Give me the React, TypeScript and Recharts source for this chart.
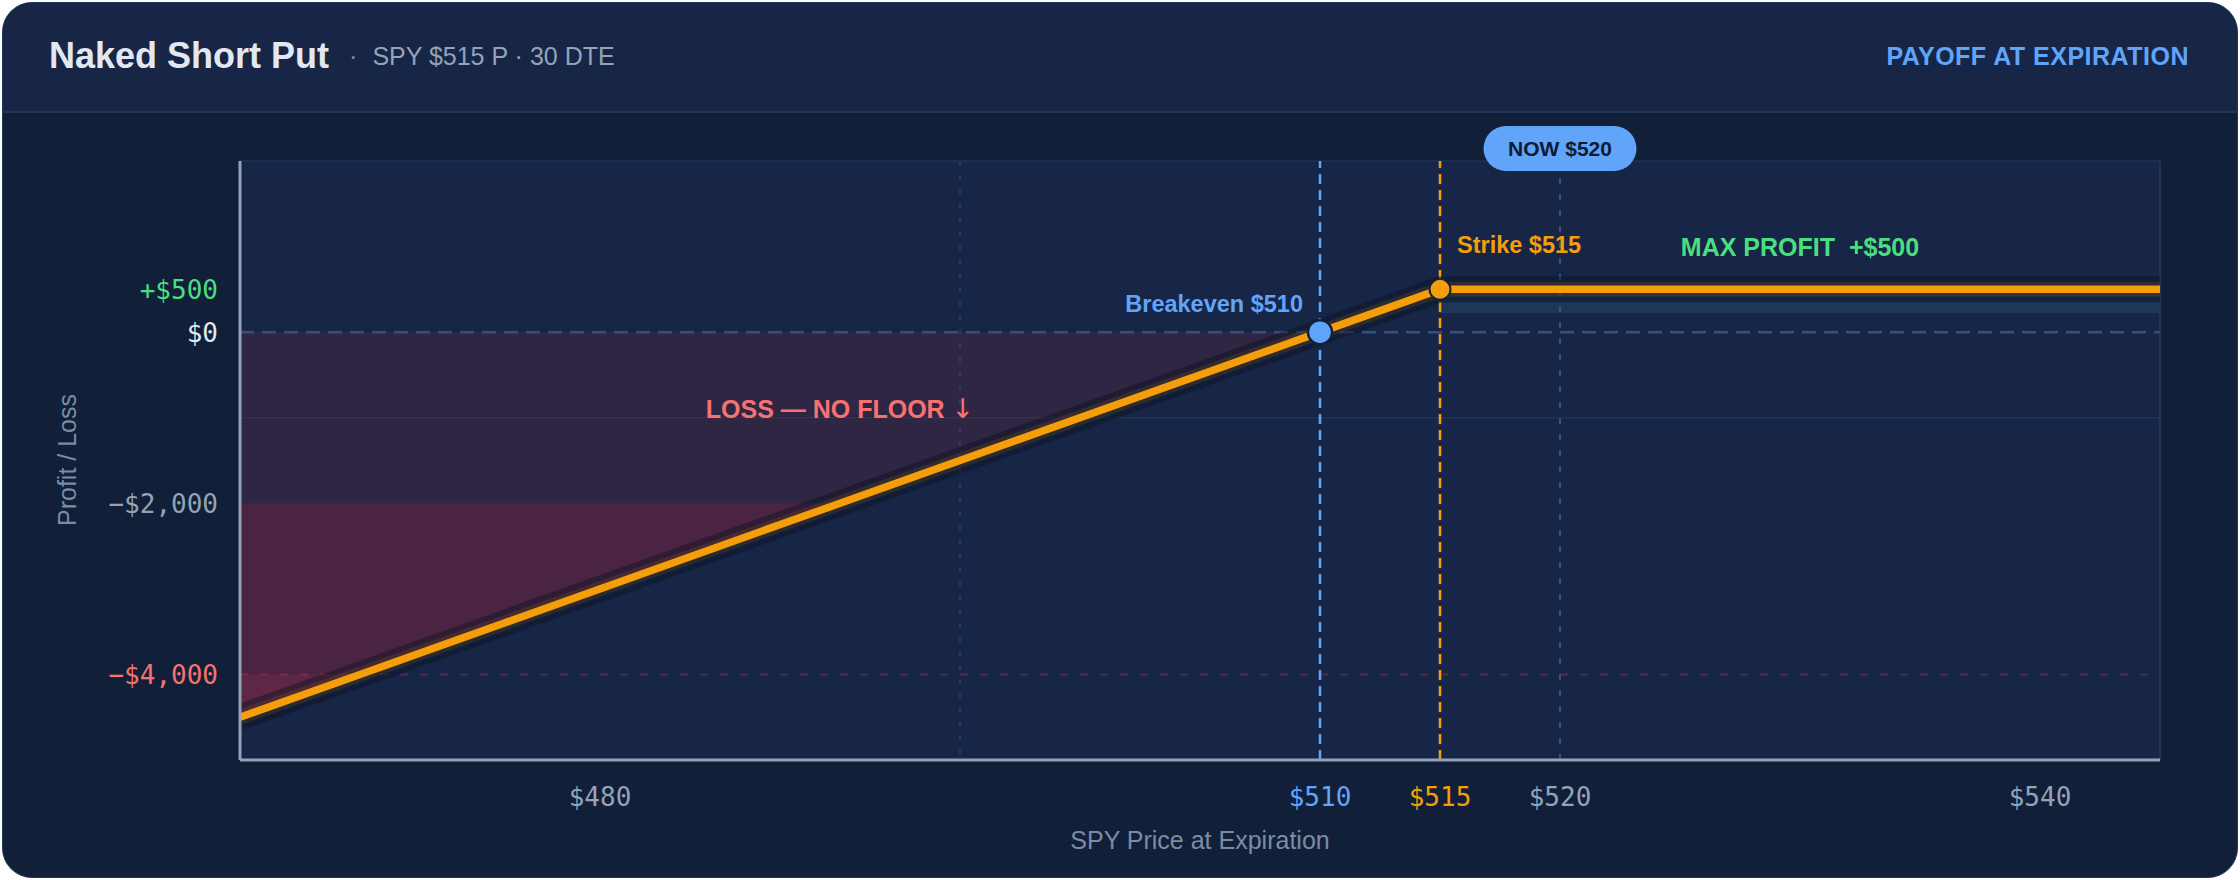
import {
  ComposedChart,
  Area,
  Line,
  XAxis,
  YAxis,
  CartesianGrid,
  ReferenceLine,
  ReferenceDot,
  ReferenceArea,
} from 'recharts';

// payoff of a short 515 put, premium $5 (x100)
const prices = [465, 470, 490, 510, 515, 545];
const pnl = [-4500, -4000, -2000, 0, 500, 500];

const xTicks = [480, 510, 515, 520, 540];
const xTickLabels = ['$480', '$510', '$515', '$520', '$540'];
const xTickColors = ['#94a3b8', '#60a5fa', '#f59e0b', '#94a3b8', '#94a3b8'];

const yTicks = [500, 0, -2000, -4000];
const yTickLabels = ['+$500', '$0', '\u2212$2,000', '\u2212$4,000'];
const yTickColors = ['#4ade80', '#e2e8f0', '#94a3b8', '#f87171'];

const breakeven = 510;
const strike = 515;
const spot = 520;
const maxProfit = 500;
const lossSteps = [0, -2000, -4000];

const SANS = '"Liberation Sans", Arial, Helvetica, sans-serif';
const MONO = '"DejaVu Sans Mono", monospace';

const data = prices.map((p, i) => ({
  price: p,
  pnl: pnl[i],
  loss0: Math.min(pnl[i], lossSteps[0]),
  loss1: Math.min(pnl[i], lossSteps[1]),
  loss2: Math.min(pnl[i], lossSteps[2]),
}));

function XTick(props: any) {
  const { x, y, payload } = props;
  const i = xTicks.indexOf(payload.value);
  return (
    <text x={x} y={y + 46} textAnchor="middle" fill={xTickColors[i]} fontSize={26} fontFamily={MONO}>
      {xTickLabels[i]}
    </text>
  );
}

function YTick(props: any) {
  const { x, y, payload } = props;
  const i = yTicks.indexOf(payload.value);
  return (
    <text x={x} y={y} dy="0.36em" textAnchor="end" fill={yTickColors[i]} fontSize={26} fontFamily={MONO}>
      {yTickLabels[i]}
    </text>
  );
}

function YTitle() {
  return (
    <text x={67} y={460} transform="rotate(-90 67 460)" dy="0.36em" textAnchor="middle" fill="#7d8ba5" fontSize={25} fontFamily={SANS}>
      Profit / Loss
    </text>
  );
}

function XTitle() {
  return (
    <text x={1200} y={849} textAnchor="middle" fill="#7d8ba5" fontSize={25} fontFamily={SANS}>
      SPY Price at Expiration
    </text>
  );
}

export default function App() {
  return (
    <div style={{ position: 'relative', width: 2240, height: 880, fontFamily: SANS }}>
      <style>{'body{margin:0;background:#ffffff}'}</style>
      <div
        style={{
          position: 'absolute',
          left: 2,
          top: 2,
          width: 2236,
          height: 876,
          boxSizing: 'border-box',
          borderRadius: 30,
          background: '#121f38',
          border: '1.5px solid #1f3659',
          overflow: 'hidden',
        }}
      >
        <div
          style={{
            height: 110,
            boxSizing: 'border-box',
            background: '#172647',
            borderBottom: '2px solid #1f3659',
            display: 'flex',
            alignItems: 'center',
            padding: '0 48px 2px 46px',
          }}
        >
          <span style={{ fontSize: 36, fontWeight: 700, color: '#e2e8f0' }}>Naked Short Put</span>
          <span style={{ fontSize: 25, color: '#7d8ba5', margin: '0 15px 0 20px' }}>·</span>
          <span style={{ fontSize: 25, color: '#94a3b8' }}>SPY $515 P · 30 DTE</span>
          <span style={{ flex: 1 }} />
          <span style={{ fontSize: 25, fontWeight: 700, color: '#60a5fa', letterSpacing: 0.5 }}>
            PAYOFF AT EXPIRATION
          </span>
        </div>
      </div>

      <div style={{ position: 'absolute', left: 0, top: 0 }}>
        <ComposedChart width={2240} height={880} data={data} margin={{ top: 161, right: 80, bottom: 60, left: 40 }}>
          <CartesianGrid
            fill="#172647"
            stroke="#1e3357"
            strokeWidth={1.5}
            vertical={false}
            horizontalValues={[2000, -1000]}
          />
          <CartesianGrid
            stroke="#263a60"
            strokeWidth={2}
            strokeDasharray="5 9"
            horizontal={false}
            verticalValues={[495]}
          />
          <ReferenceLine x={545} stroke="#1f3659" strokeWidth={2} zIndex={40} />

          {/* profit strip under the flat part */}
          <ReferenceArea x1={strike} x2={545} y1={220} y2={maxProfit} fill="#1e3658" fillOpacity={1} stroke="none" zIndex={50} />

          {/* loss zone, deeper steps get redder */}
          <Area type="linear" dataKey="loss0" baseValue={lossSteps[0]} fill="#dc2626" fillOpacity={0.12} stroke="none" dot={false} activeDot={false} isAnimationActive={false} zIndex={100} />
          <Area type="linear" dataKey="loss1" baseValue={lossSteps[1]} fill="#e11d48" fillOpacity={0.16} stroke="none" dot={false} activeDot={false} isAnimationActive={false} zIndex={101} />
          <Area type="linear" dataKey="loss2" baseValue={lossSteps[2]} fill="#f43f5e" fillOpacity={0.12} stroke="none" dot={false} activeDot={false} isAnimationActive={false} zIndex={102} />

          <ReferenceLine y={0} stroke="#36507c" strokeWidth={2.5} strokeDasharray="14 8" zIndex={150} />
          <ReferenceLine y={-4000} stroke="#ef4444" strokeOpacity={0.28} strokeWidth={2} strokeDasharray="8 12" zIndex={150} />
          <ReferenceLine x={spot} stroke="#3a5079" strokeWidth={2} strokeDasharray="6 10" zIndex={160} />
          <ReferenceLine x={breakeven} stroke="#60a5fa" strokeWidth={2.5} strokeDasharray="10 6" zIndex={160} />
          <ReferenceLine x={strike} stroke="#f59e0b" strokeWidth={2.5} strokeDasharray="10 6" zIndex={160} />

          <Line type="linear" dataKey="pnl" stroke="#0a1122" strokeOpacity={0.45} strokeWidth={26} strokeLinejoin="round" dot={false} activeDot={false} isAnimationActive={false} zIndex={300} />
          <Line type="linear" dataKey="pnl" stroke="#f59e0b" strokeOpacity={0.12} strokeWidth={15} strokeLinejoin="round" dot={false} activeDot={false} isAnimationActive={false} zIndex={310} />
          <Line type="linear" dataKey="pnl" stroke="#f59e0b" strokeWidth={7.5} strokeLinejoin="round" dot={false} activeDot={false} isAnimationActive={false} zIndex={400} />

          <XAxis
            type="number"
            dataKey="price"
            domain={[465, 545]}
            ticks={xTicks}
            allowDataOverflow
            height={60}
            tickLine={false}
            tickSize={0}
            tickMargin={0}
            axisLine={{ stroke: '#94a3b8', strokeWidth: 3 }}
            tick={<XTick />}
            label={<XTitle />}
            zIndex={500}
          />
          <YAxis
            type="number"
            domain={[-5000, 2000]}
            ticks={yTicks}
            allowDataOverflow
            width={200}
            tickLine={false}
            tickSize={0}
            tickMargin={22}
            axisLine={{ stroke: '#94a3b8', strokeWidth: 3 }}
            tick={<YTick />}
            label={<YTitle />}
            zIndex={500}
          />

          <ReferenceDot
            x={breakeven}
            y={0}
            r={12}
            zIndex={600}
            shape={(p: any) => (
              <g>
                <circle cx={p.cx} cy={p.cy} r={12} fill="#60a5fa" stroke="#13203a" strokeWidth={2.5} />
                <text x={p.cx - 17} y={p.cy - 20} textAnchor="end" fill="#60a5fa" fontSize={23.5} fontWeight={700} fontFamily={SANS}>
                  Breakeven $510
                </text>
              </g>
            )}
          />
          <ReferenceDot
            x={strike}
            y={maxProfit}
            r={10.5}
            zIndex={600}
            shape={(p: any) => (
              <g>
                <circle cx={p.cx} cy={p.cy} r={10.5} fill="#f59e0b" stroke="#13203a" strokeWidth={2} />
                <text x={p.cx + 17} y={p.cy - 36} textAnchor="start" fill="#f59e0b" fontSize={23.5} fontWeight={700} fontFamily={SANS}>
                  Strike $515
                </text>
              </g>
            )}
          />
          <ReferenceDot
            x={530}
            y={1000}
            r={0}
            zIndex={600}
            shape={(p: any) => (
              <text x={p.cx} y={p.cy} dy={9.5} textAnchor="middle" fill="#4ade80" fontSize={25} fontWeight={700} fontFamily={SANS} style={{ whiteSpace: 'pre' }}>
                {'MAX PROFIT  +$500'}
              </text>
            )}
          />
          <ReferenceDot
            x={490}
            y={-900}
            r={0}
            zIndex={600}
            shape={(p: any) => (
              <text x={p.cx} y={p.cy} dy={9} textAnchor="middle" fill="#f87171" fontSize={25} fontWeight={700} fontFamily={SANS}>
                LOSS — NO FLOOR{' '}
                <tspan fontFamily='"DejaVu Sans", sans-serif' fontWeight={400} fontSize={27}>
                  ↓
                </tspan>
              </text>
            )}
          />
          <ReferenceDot
            x={spot}
            y={2000}
            r={0}
            zIndex={700}
            shape={(p: any) => (
              <g>
                <rect x={p.cx - 76.5} y={p.cy - 35} width={153} height={45} rx={22.5} fill="#60a5fa" />
                <text x={p.cx} y={p.cy - 12.5} dy={7.5} textAnchor="middle" fill="#0f1b33" fontSize={21} fontWeight={700} fontFamily={SANS}>
                  NOW $520
                </text>
              </g>
            )}
          />
        </ComposedChart>
      </div>
    </div>
  );
}
